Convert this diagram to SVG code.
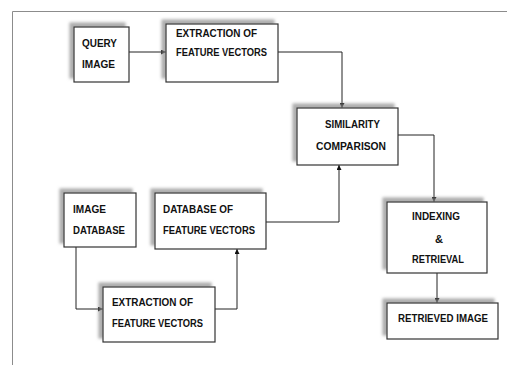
<svg xmlns="http://www.w3.org/2000/svg" width="507" height="365" viewBox="0 0 507 365">
<defs>
<filter id="sh" x="-20%" y="-20%" width="140%" height="140%">
<feDropShadow dx="-4" dy="-4" stdDeviation="1.6" flood-color="#8a8a8a" flood-opacity="0.7"/>
</filter>
<marker id="ah" viewBox="0 0 10 10" refX="10" refY="5" markerWidth="5" markerHeight="5" orient="auto" markerUnits="userSpaceOnUse">
<path d="M0,0 L10,5 L0,10 z" fill="#111"/>
</marker>
</defs>
<style>
.box{fill:#fff;stroke:#333;stroke-width:1.2;filter:url(#sh)}
.t{font-family:"Liberation Sans",Arial,sans-serif;font-weight:bold;font-size:11.5px;fill:#111}
.c{fill:none;stroke:#222;stroke-width:1}
</style>
<rect width="507" height="365" fill="#fff"/>
<path d="M12.5,365 V11.5 H507" fill="none" stroke="#8c8c8c" stroke-width="1"/>
<g id="connectors">
<path class="c" d="M129,52 H166" marker-end="url(#ah)"/>
<path class="c" d="M278,52 H342 V108" marker-end="url(#ah)"/>
<path class="c" d="M398,135 H434 V202" marker-end="url(#ah)"/>
<path class="c" d="M437,273 V303" marker-end="url(#ah)"/>
<path class="c" d="M266,222 H339 V165" marker-end="url(#ah)"/>
<path class="c" d="M76,247 V309 H103" marker-end="url(#ah)"/>
<path class="c" d="M215,309 H237 V249" marker-end="url(#ah)"/>
</g>
<g id="query-image">
<rect class="box" x="74" y="27" width="55" height="55"/>
<text class="t" x="82" y="47" textLength="35" lengthAdjust="spacingAndGlyphs">QUERY</text>
<text class="t" x="82" y="67.5" textLength="33" lengthAdjust="spacingAndGlyphs">IMAGE</text>
</g>
<g id="extraction-1">
<rect class="box" x="166" y="24" width="112" height="58"/>
<text class="t" x="176" y="37" textLength="81" lengthAdjust="spacingAndGlyphs">EXTRACTION OF</text>
<text class="t" x="176" y="56" textLength="91" lengthAdjust="spacingAndGlyphs">FEATURE VECTORS</text>
</g>
<g id="similarity">
<rect class="box" x="297" y="108" width="101" height="57"/>
<text class="t" x="325" y="128" textLength="55" lengthAdjust="spacingAndGlyphs">SIMILARITY</text>
<text class="t" x="316" y="150" textLength="70" lengthAdjust="spacingAndGlyphs">COMPARISON</text>
</g>
<g id="image-database">
<rect class="box" x="64" y="193" width="72" height="54"/>
<text class="t" x="73" y="213" textLength="33" lengthAdjust="spacingAndGlyphs">IMAGE</text>
<text class="t" x="73" y="234" textLength="52" lengthAdjust="spacingAndGlyphs">DATABASE</text>
</g>
<g id="database-fv">
<rect class="box" x="155" y="193" width="111" height="56"/>
<text class="t" x="163" y="213" textLength="70" lengthAdjust="spacingAndGlyphs">DATABASE OF</text>
<text class="t" x="163" y="234" textLength="92" lengthAdjust="spacingAndGlyphs">FEATURE VECTORS</text>
</g>
<g id="extraction-2">
<rect class="box" x="103" y="287" width="112" height="55"/>
<text class="t" x="112" y="306" textLength="81" lengthAdjust="spacingAndGlyphs">EXTRACTION OF</text>
<text class="t" x="112" y="327" textLength="91" lengthAdjust="spacingAndGlyphs">FEATURE VECTORS</text>
</g>
<g id="indexing">
<rect class="box" x="387" y="202" width="100" height="71"/>
<text class="t" x="412" y="220" textLength="48" lengthAdjust="spacingAndGlyphs">INDEXING</text>
<text class="t" x="435" y="243" textLength="8" lengthAdjust="spacingAndGlyphs">&amp;</text>
<text class="t" x="412" y="263" textLength="52" lengthAdjust="spacingAndGlyphs">RETRIEVAL</text>
</g>
<g id="retrieved-image">
<rect class="box" x="387" y="303" width="111" height="36"/>
<text class="t" x="398" y="322" textLength="90" lengthAdjust="spacingAndGlyphs">RETRIEVED IMAGE</text>
</g>
</svg>
